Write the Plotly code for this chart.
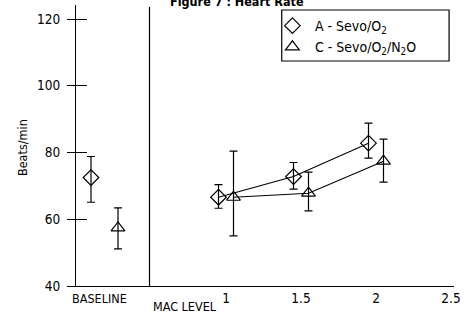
import plotly.graph_objects as go

# ---- data ----
groups = ["A - Sevo/O<sub>2</sub>", "C - Sevo/O<sub>2</sub>/N<sub>2</sub>O"]
symbols = ["diamond-open", "triangle-up-open"]

baseline_x = [0.10, 0.28]
baseline_mean = [72.5, 57.4]
baseline_plus = [6.3, 6.0]
baseline_minus = [7.4, 6.3]

mac_x_a = [0.95, 1.45, 1.95]
mac_mean_a = [66.6, 72.8, 82.8]
mac_plus_a = [3.8, 4.2, 6.0]
mac_minus_a = [3.3, 3.8, 4.5]

mac_x_c = [1.05, 1.55, 2.05]
mac_mean_c = [66.6, 67.8, 77.4]
mac_plus_c = [13.8, 6.3, 6.6]
mac_minus_c = [11.6, 5.3, 6.3]

xticks = [1, 1.5, 2, 2.5]
yticks = [40, 60, 80, 100, 120]
divider_x = 0.49

FONT = "DejaVu Sans Condensed, Roboto, sans-serif"

fig = go.Figure()

mac_sets = [(mac_x_a, mac_mean_a, mac_plus_a, mac_minus_a),
            (mac_x_c, mac_mean_c, mac_plus_c, mac_minus_c)]

for i in range(2):
    fig.add_trace(go.Scatter(
        x=[baseline_x[i]], y=[baseline_mean[i]], mode="markers",
        marker=dict(symbol=symbols[i], size=12, color="black", line=dict(width=1.2, color="black")),
        error_y=dict(type="data", symmetric=False, array=[baseline_plus[i]],
                     arrayminus=[baseline_minus[i]], color="black", thickness=1.2, width=4),
        showlegend=False, hoverinfo="skip"))
    mx, mm, mp, mn = mac_sets[i]
    fig.add_trace(go.Scatter(
        x=mx, y=mm, mode="lines+markers",
        line=dict(color="black", width=1.1),
        marker=dict(symbol=symbols[i], size=12, color="black", line=dict(width=1.2, color="black")),
        error_y=dict(type="data", symmetric=False, array=mp, arrayminus=mn,
                     color="black", thickness=1.2, width=4),
        showlegend=False, hoverinfo="skip"))
    fig.add_trace(go.Scatter(
        x=[None], y=[None], mode="markers", name=groups[i],
        marker=dict(symbol=symbols[i], size=12, color="black", line=dict(width=1.2, color="black")),
        showlegend=True))

fig.add_trace(go.Scatter(x=[None], y=[None], yaxis="y2", showlegend=False))

fig.add_shape(type="line", x0=divider_x, x1=divider_x, y0=0, y1=0.993,
              xref="x", yref="paper", line=dict(color="black", width=1.2))

# legend frame
fig.add_shape(type="rect", xref="paper", yref="paper",
              x0=(285 - 76) / 384, x1=(455 - 76) / 384,
              y0=(286 - 61) / 281, y1=(286 - 10) / 281,
              line=dict(color="black", width=1.2), fillcolor="white", layer="above")

fig.add_annotation(text="BASELINE", x=0, y=0, xref="x", yref="paper",
                   xanchor="left", yanchor="top", yshift=-3, xshift=-6, showarrow=False,
                   font=dict(size=12.5, family=FONT, color="black"))
fig.add_annotation(text="MAC LEVEL", x=divider_x, y=0, xref="x", yref="paper",
                   xanchor="left", yanchor="top", yshift=-11, xshift=1, showarrow=False,
                   font=dict(size=12.5, family=FONT, color="black"))
fig.add_annotation(text="Beats/min", x=0, y=0.491, xref="paper", yref="paper",
                   xanchor="center", yanchor="middle", xshift=-54, textangle=-90,
                   showarrow=False, font=dict(size=12.5, family=FONT, color="black"))
fig.add_annotation(text="<b>Figure 7 : Heart Rate</b>", x=0.427, y=1, xref="paper", yref="paper",
                   xanchor="center", yanchor="middle", yshift=4, showarrow=False,
                   font=dict(size=12.5, family=FONT, color="black"))
fig.add_annotation(text="<b>Figure 8 : Mean Arterial Pressure</b>", x=0.422, y=0, xref="paper",
                   yref="paper", xanchor="center", yanchor="middle", yshift=-55,
                   showarrow=False, font=dict(size=12.5, family=FONT, color="black"))

fig.update_layout(
    width=466, height=336,
    margin=dict(l=76, r=6, t=5, b=50),
    paper_bgcolor="white", plot_bgcolor="white",
    font=dict(family=FONT, size=13, color="black"),
    xaxis=dict(range=[0, 2.52], tickvals=xticks, ticktext=[str(t) for t in xticks],
               showline=True, linecolor="black", linewidth=1.2, ticks="",
               showgrid=False, zeroline=False, tickfont=dict(size=13.5),
               ticklabeloverflow="allow"),
    yaxis=dict(range=[40, 124.2], tickvals=yticks, showline=True, linecolor="black",
               linewidth=1.2, ticks="outside", ticklen=8, tickwidth=1.2, tickcolor="black",
               showgrid=False, zeroline=False, tickfont=dict(size=13.5),
               ticklabelstandoff=4),
    yaxis2=dict(range=[40, 124.2], overlaying="y", side="left", tickvals=yticks,
                ticks="inside", ticklen=11, tickwidth=1.2, tickcolor="black",
                showticklabels=False, showgrid=False, zeroline=False, showline=False),
    legend=dict(x=(273 - 76) / 384, y=0.982, xanchor="left", yanchor="top",
                borderwidth=0, bgcolor="rgba(0,0,0,0)",
                font=dict(size=14, family=FONT, color="black"),
                itemwidth=35, tracegroupgap=0),
    showlegend=True,
)

fig.write_html("out.html", config={"displayModeBar": False},
               post_script="document.body.style.margin='0';document.body.style.overflow='hidden';")
